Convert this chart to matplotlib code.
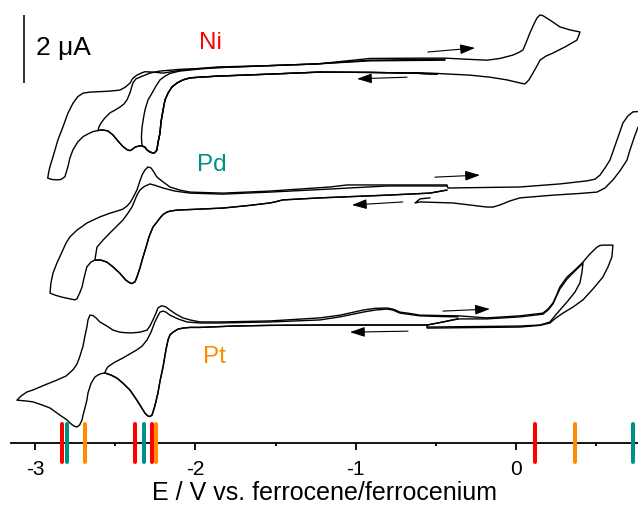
import matplotlib
matplotlib.use("Agg")
import matplotlib.pyplot as plt

plt.rcParams['font.family'] = ['Liberation Sans', 'DejaVu Sans']

# ============ data: E in V vs Fc/Fc+, I in uA relative to each trace's baseline ============
# ---- Ni ----
ni_lower_E = [-0.494, -0.644, -0.912, -1.223, -1.536, -1.866, -1.972, -2.034, -2.078, -2.115, -2.147, -2.171,
              -2.190, -2.202, -2.215, -2.221, -2.234, -2.240, -2.253, -2.265, -2.284, -2.302, -2.315, -2.333]
ni_lower_I = [0.05, 0.08, 0.10, 0.11, 0.05, -0.01, -0.04, -0.06, -0.12, -0.21, -0.33, -0.51,
              -0.71, -1.01, -1.36, -1.68, -1.98, -2.18, -2.26, -2.27, -2.24, -2.18, -2.10, -2.06]
# cycle reversed at -2.33 V
ni_back1_E = [-2.337, -2.333, -2.324, -2.315, -2.296, -2.271, -2.246, -2.221, -2.190, -2.159, -2.098, -1.972,
              -1.866, -1.536, -1.242, -0.912, -0.444]
ni_back1_I = [-1.80, -1.51, -1.24, -1.01, -0.71, -0.51, -0.30, -0.12, -0.01, 0.07, 0.14, 0.20,
              0.24, 0.30, 0.35, 0.44, 0.46]
# continuation of the cathodic scan to -2.61 V
ni_ext1_E = [-2.346, -2.365, -2.377, -2.396, -2.409, -2.427, -2.452, -2.483, -2.514, -2.546, -2.583, -2.608]
ni_ext1_I = [-2.06, -2.08, -2.10, -2.17, -2.20, -2.17, -2.08, -1.92, -1.74, -1.62, -1.59, -1.61]
ni_back2_E = [-2.602, -2.589, -2.565, -2.533, -2.502, -2.471, -2.446, -2.427, -2.409, -2.390, -2.371, -2.346,
              -2.315, -2.284, -2.221, -2.098, -1.866, -1.536, -1.242, -0.912, -0.444]
ni_back2_I = [-1.51, -1.39, -1.24, -1.09, -1.01, -0.92, -0.83, -0.71, -0.51, -0.21, -0.09, -0.04,
              0.02, 0.08, 0.14, 0.19, 0.24, 0.30, 0.35, 0.46, 0.49]
# continuation to -2.92 V, then the full anodic scan to +0.40 V and back
ni_ext2_E = [-2.639, -2.670, -2.701, -2.733, -2.764, -2.783, -2.795, -2.807, -2.814, -2.839, -2.864, -2.894, -2.921]
ni_ext2_I = [-1.64, -1.71, -1.79, -1.94, -2.18, -2.42, -2.67, -2.86, -2.97, -3.05, -3.06, -3.05, -3.01]
ni_back3_E = [-2.915, -2.907, -2.888, -2.858, -2.826, -2.795, -2.764, -2.733, -2.701, -2.658, -2.614, -2.533,
              -2.471, -2.440, -2.409, -2.390, -2.365, -2.333, -2.315, -2.265, -2.202, -2.098, -1.866, -1.536,
              -1.242, -0.912, -0.600, -0.444, -0.320, -0.183, -0.102, -0.021, 0.017, 0.042, 0.060, 0.085,
              0.110, 0.129, 0.148, 0.166, 0.210, 0.272, 0.335, 0.397, 0.391, 0.378, 0.304, 0.229, 0.185,
              0.148, 0.129, 0.104, 0.079, 0.054, 0.023, -0.058, -0.164, -0.289, -0.413, -0.538, -0.644]
ni_back3_I = [-2.83, -2.67, -2.38, -1.89, -1.50, -1.10, -0.81, -0.61, -0.51, -0.48, -0.47, -0.45,
              -0.42, -0.34, -0.22, -0.07, 0.02, 0.09, 0.12, 0.11, 0.08, 0.16, 0.26, 0.30,
              0.35, 0.51, 0.52, 0.52, 0.49, 0.46, 0.51, 0.61, 0.69, 0.76, 0.96, 1.26,
              1.52, 1.70, 1.79, 1.77, 1.64, 1.44, 1.35, 1.29, 1.20, 1.05, 0.85, 0.67, 0.58,
              0.46, 0.29, 0.08, -0.12, -0.24, -0.21, -0.12, -0.04, 0.02, 0.05, 0.08, 0.08]

# ---- Pd ----
pd_lower_E = [-0.432, -0.538, -0.806, -1.223, -1.455, -1.505, -1.536, -1.660, -1.829, -1.972, -2.115, -2.159,
              -2.178, -2.202, -2.221, -2.240, -2.265, -2.290, -2.308, -2.327, -2.346, -2.365, -2.377, -2.396,
              -2.409, -2.434, -2.471, -2.514, -2.552, -2.589, -2.627]
pd_lower_I = [0.04, -0.05, -0.11, -0.19, -0.25, -0.31, -0.34, -0.41, -0.49, -0.52, -0.55, -0.58,
              -0.61, -0.68, -0.78, -0.90, -1.05, -1.34, -1.64, -1.93, -2.25, -2.52, -2.66, -2.71,
              -2.69, -2.61, -2.41, -2.22, -2.08, -2.02, -2.02]
pd_back1_E = [-2.620, -2.614, -2.576, -2.533, -2.490, -2.452, -2.421, -2.396, -2.377, -2.365, -2.346, -2.321,
              -2.284, -2.246, -2.202, -2.128, -2.034, -1.829, -1.536, -1.161, -0.806, -0.432]
pd_back1_I = [-1.81, -1.64, -1.43, -1.22, -1.02, -0.84, -0.64, -0.46, -0.25, -0.11, 0.04, 0.14,
              0.22, 0.17, 0.10, 0.01, -0.05, -0.08, -0.02, 0.07, 0.16, 0.16]
pd_ext_E = [-2.652, -2.677, -2.695, -2.707, -2.722, -2.739, -2.752, -2.783, -2.832, -2.876, -2.907]
pd_ext_I = [-2.08, -2.22, -2.55, -2.81, -2.99, -3.16, -3.19, -3.16, -3.11, -3.05, -2.99]
pd_back2_E = [-2.901, -2.888, -2.864, -2.832, -2.807, -2.783, -2.739, -2.677, -2.596, -2.533, -2.490, -2.452,
              -2.427, -2.409, -2.390, -2.365, -2.346, -2.333, -2.315, -2.296, -2.277, -2.259, -2.240, -2.202,
              -2.159, -2.098, -2.034, -1.829, -1.536, -1.161, -1.055, -0.806, -0.432, -0.426, 0.023, 0.272,
              0.441, 0.491, 0.522, 0.553, 0.584, 0.628, 0.665, 0.696, 0.728, 0.803,
              0.803, 0.759, 0.734, 0.709, 0.690, 0.646, 0.603, 0.553, 0.503, 0.397, 0.229, 0.023,
              -0.039, -0.102, -0.145, -0.183, -0.289, -0.395, -0.600, -0.631, -0.600, -0.538]
pd_back2_I = [-2.69, -2.40, -2.11, -1.78, -1.52, -1.34, -1.14, -0.93, -0.75, -0.64, -0.58, -0.52,
              -0.43, -0.34, -0.19, 0.04, 0.31, 0.48, 0.63, 0.72, 0.69, 0.57, 0.42, 0.28,
              0.13, 0.04, -0.02, -0.05, 0.01, 0.13, 0.19, 0.19, 0.19, 0.10, 0.13, 0.22,
              0.31, 0.36, 0.48, 0.69, 0.92, 1.51, 2.01, 2.22, 2.34, 2.36,
              1.92, 1.89, 1.57, 1.22, 0.92, 0.60, 0.34, 0.10, -0.02, -0.06, -0.11, -0.19,
              -0.28, -0.40, -0.46, -0.46, -0.40, -0.34, -0.31, -0.34, -0.22, -0.19]

# ---- Pt ----
pt_lower_E = [-0.363, -0.457, -0.556, -0.912, -1.223, -1.536, -1.767, -1.911, -1.972, -2.034, -2.078, -2.109,
              -2.140, -2.159, -2.171, -2.184, -2.202, -2.221, -2.234, -2.253, -2.271, -2.284, -2.296, -2.315,
              -2.327, -2.365, -2.409, -2.452, -2.490, -2.527, -2.565]
pt_lower_I = [0.15, 0.06, -0.03, -0.03, -0.03, -0.04, -0.06, -0.09, -0.10, -0.10, -0.12, -0.15,
              -0.24, -0.32, -0.47, -0.76, -1.26, -1.68, -2.03, -2.41, -2.68, -2.72, -2.71, -2.62,
              -2.53, -2.24, -1.94, -1.74, -1.59, -1.50, -1.44]
pt_back1_E = [-2.558, -2.546, -2.502, -2.452, -2.409, -2.365, -2.333, -2.302, -2.277, -2.253, -2.234, -2.221,
              -2.202, -2.184, -2.159, -2.109, -2.053, -1.972, -1.847, -1.536, -1.223, -1.099, -0.955, -0.881,
              -0.806, -0.769, -0.725, -0.663, -0.600, -0.476, -0.363]
pt_back1_I = [-1.35, -1.26, -1.12, -1.00, -0.88, -0.76, -0.65, -0.47, -0.24, 0.06, 0.24, 0.35,
              0.38, 0.35, 0.26, 0.15, 0.06, 0.03, 0.03, 0.06, 0.12, 0.21, 0.35, 0.41,
              0.44, 0.41, 0.32, 0.28, 0.24, 0.22, 0.21]
pt_ext_E = [-2.589, -2.608, -2.627, -2.639, -2.652, -2.658, -2.670, -2.677, -2.689, -2.701, -2.707, -2.722,
            -2.739, -2.758, -2.783, -2.801, -2.845, -2.907, -2.957, -3.013, -3.063, -3.113]
pt_ext_I = [-1.46, -1.50, -1.56, -1.65, -1.76, -1.85, -2.03, -2.24, -2.47, -2.68, -2.82, -2.97,
            -3.03, -3.00, -2.91, -2.82, -2.68, -2.47, -2.38, -2.29, -2.26, -2.24]
pt_back2_E = [-3.088, -3.051, -3.013, -2.938, -2.864, -2.807, -2.764, -2.739, -2.722, -2.701, -2.689, -2.677,
              -2.670, -2.658, -2.639, -2.620, -2.596, -2.552, -2.514, -2.471, -2.427, -2.390, -2.346, -2.302,
              -2.284, -2.265, -2.246, -2.234, -2.215, -2.202, -2.184, -2.159, -2.121, -2.078, -2.034, -1.972,
              -1.847, -1.536, -1.223, -1.099, -0.955, -0.881, -0.806, -0.769, -0.725, -0.663, -0.600, -0.476,
              -0.363, -0.183, 0.023, 0.166, 0.198, 0.229, 0.254, 0.272, 0.316, 0.366, 0.416, 0.459, 0.503,
              0.522, 0.540, 0.603, 0.596, 0.572, 0.540, 0.478, 0.416, 0.354, 0.291, 0.248, 0.210, 0.148,
              0.023, -0.556, -0.556]
pt_back2_I = [-2.12, -2.00, -1.94, -1.79, -1.65, -1.53, -1.35, -1.18, -0.97, -0.65, -0.35, -0.09,
              0.12, 0.26, 0.25, 0.18, 0.06, -0.06, -0.18, -0.24, -0.26, -0.26, -0.24, -0.18,
              -0.06, 0.12, 0.32, 0.47, 0.53, 0.53, 0.50, 0.41, 0.29, 0.18, 0.12, 0.06,
              0.06, 0.09, 0.18, 0.26, 0.41, 0.46, 0.47, 0.44, 0.35, 0.31, 0.26, 0.25,
              0.24, 0.18, 0.24, 0.32, 0.44, 0.62, 0.88, 1.09, 1.38, 1.59, 1.82, 2.06, 2.26,
              2.31, 2.32, 2.32, 1.97, 1.68, 1.38, 1.03, 0.71, 0.50, 0.32, 0.18, 0.03, -0.04,
              -0.09, -0.12, -0.03]
pt_anodic_E = [-0.363, -0.183, 0.023, 0.166, 0.198, 0.229, 0.254, 0.272, 0.316, 0.366, 0.416, 0.410, 0.397,
               0.366, 0.322, 0.272, 0.241, 0.210, 0.148, 0.023, -0.556]
pt_anodic_I = [0.15, 0.15, 0.21, 0.29, 0.41, 0.59, 0.85, 1.03, 1.32, 1.56, 1.79, 1.53, 1.21,
               0.94, 0.68, 0.41, 0.24, 0.06, -0.03, -0.06, -0.09]

# vertical stacking of the three voltammograms (uA)
offsets = {'Ni': 10.8, 'Pd': 7.4, 'Pt': 3.5}

# redox potentials marked on the axis (V)
ni_marks = [-2.834, -2.377, -2.271, 0.117]
pd_marks = [-2.80, -2.323, 0.726]
pt_marks = [-2.69, -2.246, 0.366]

xticks = [-3, -2, -1, 0]
xlabel = 'E / V vs. ferrocene/ferrocenium'
scale_label = '2 μA'
scale_uA = 2.0

colors = {'Ni': '#ff0000', 'Pd': '#009088', 'Pt': '#ff8c00'}

# ---------------- figure ----------------
fig = plt.figure(figsize=(6.38, 5.13), dpi=100)
ax = fig.add_axes([11 / 638, 70 / 513, 627 / 638, 443 / 513])
ax.set_xlim(-3.150, 0.759)
ax.set_ylim(0, 13.03)

traces = [
    ('Ni', ni_lower_E + ni_back1_E, ni_lower_I + ni_back1_I),
    ('Ni', ni_lower_E + ni_ext1_E + ni_back2_E, ni_lower_I + ni_ext1_I + ni_back2_I),
    ('Ni', ni_lower_E + ni_ext1_E + ni_ext2_E + ni_back3_E, ni_lower_I + ni_ext1_I + ni_ext2_I + ni_back3_I),
    ('Pd', pd_lower_E + pd_back1_E, pd_lower_I + pd_back1_I),
    ('Pd', pd_lower_E + pd_ext_E + pd_back2_E, pd_lower_I + pd_ext_I + pd_back2_I),
    ('Pt', pt_lower_E + pt_back1_E, pt_lower_I + pt_back1_I),
    ('Pt', pt_lower_E + pt_ext_E + pt_back2_E, pt_lower_I + pt_ext_I + pt_back2_I),
    ('Pt', pt_anodic_E, pt_anodic_I),
]
for key, E, I in traces:
    ax.plot(E, [v + offsets[key] for v in I], color='black', lw=1.0,
            solid_joinstyle='round', solid_capstyle='round')

# scan direction arrows
arrows = [
    ('Ni', (-0.551, 0.70), (-0.257, 0.82)),
    ('Ni', (-0.681, -0.04), (-0.993, -0.09)),
    ('Pd', (-0.507, 0.42), (-0.226, 0.48)),
    ('Pd', (-0.707, -0.31), (-1.025, -0.40)),
    ('Pt', (-0.457, 0.38), (-0.164, 0.44)),
    ('Pt', (-0.675, -0.21), (-1.037, -0.24)),
]
for key, (x0, y0), (x1, y1) in arrows:
    ax.annotate('', xy=(x1, y1 + offsets[key]), xytext=(x0, y0 + offsets[key]),
                arrowprops=dict(arrowstyle='-|>,head_length=0.9,head_width=0.3', color='black',
                                lw=0.8, shrinkA=0, shrinkB=0))

# potential markers on the axis
for marks, key in [(ni_marks, 'Ni'), (pd_marks, 'Pd'), (pt_marks, 'Pt')]:
    for m in marks:
        ax.plot([m, m], [-0.55, 0.55], color=colors[key], lw=2.9, solid_capstyle='round',
                clip_on=False, zorder=5)

# labels
ax.text(-1.908, 11.76, 'Ni', color=colors['Ni'], fontsize=17.5, ha='center', va='center')
ax.text(-1.897, 8.18, 'Pd', color=colors['Pd'], fontsize=17.5, ha='center', va='center')
ax.text(-1.880, 2.53, 'Pt', color=colors['Pt'], fontsize=17.5, ha='center', va='center')

# scale bar
ax.plot([-3.069, -3.069], [10.59, 10.59 + scale_uA], color='#333333', lw=1.4, solid_capstyle='butt')
ax.text(-2.994, 11.62, scale_label, fontsize=19, ha='left', va='center')

# axis styling
for s in ['left', 'right', 'top']:
    ax.spines[s].set_visible(False)
ax.spines['bottom'].set_linewidth(1.3)
ax.set_yticks([])
ax.set_xticks(xticks)
ax.set_xticklabels([str(t) for t in xticks])
ax.set_xticks([-2.5, -1.5, -0.5, 0.5], minor=True)
ax.tick_params(axis='x', which='major', direction='out', length=5, width=1.3, labelsize=15, pad=7)
ax.tick_params(axis='x', which='minor', direction='out', length=2.5, width=1.3)
ax.set_xlabel(xlabel, fontsize=18, labelpad=2)
ax.patch.set_visible(False)

fig.savefig('out.png', dpi=100)
